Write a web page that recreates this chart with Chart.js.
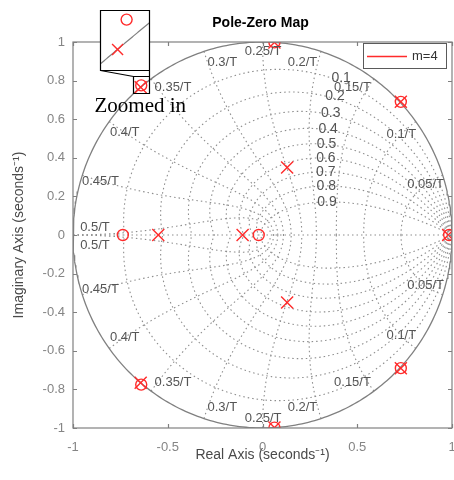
<!DOCTYPE html>
<html>
<head>
<meta charset="utf-8">
<script src="https://cdn.jsdelivr.net/npm/chart.js@4.4.1/dist/chart.umd.min.js"></script>
<style>
  html, body { margin: 0; padding: 0; background: #fff; }
</style>
</head>
<body>
<canvas id="pzmap" width="454" height="480"></canvas>
<script>
// axis ticks
const xTicks = [-1, -0.5, 0, 0.5, 1];
const yTicks = [-1, -0.8, -0.6, -0.4, -0.2, 0, 0.2, 0.4, 0.6, 0.8, 1];

// zgrid: damping ratios and natural frequencies (wn*T = k*pi/10)
const dampingRatios = [0.1, 0.2, 0.3, 0.4, 0.5, 0.6, 0.7, 0.8, 0.9];
const freqSteps = [1, 2, 3, 4, 5, 6, 7, 8, 9, 10];
const freqLabels = ["0.05/T", "0.1/T", "0.15/T", "0.2/T", "0.25/T", "0.3/T", "0.35/T", "0.4/T", "0.45/T", "0.5/T"];

// poles (x) and zeros (o)
const poleRe = [-0.55, -0.105, 0.13, 0.13, 0.98, 0.063, 0.063, 0.73, 0.73, -0.6428, -0.6428];
const poleIm = [0, 0, 0.35, -0.35, 0, 0.998, -0.998, 0.69, -0.69, 0.766, -0.766];
const zeroRe = [-0.737, -0.02, 0.985, 0.063, 0.063, 0.73, 0.73, -0.64, -0.64];
const zeroIm = [0, 0, 0, 0.998, -0.998, 0.69, -0.69, 0.7752, -0.7752];

const legendLabel = "m=4";

// which pole/zero pair the "zoomed in" box shows, and the data window of the inset
const zoomPole = 9, zoomZero = 7;
const insetView = { x0: -0.6481, x1: -0.6329, y0: 0.7595, y1: 0.7780 };

// label layout for the frequency curves (radius, nudge toward the imaginary axis in degrees)
const freqLabelRadius = [0.9, 0.9, 0.9, 0.92, 0.95, 0.92, 0.9, 0.9, 0.9, 0.9];
const freqLabelNudge = [0, 0, 4.5, 5, 0, -4.5, -4.2, 0, 0, 0];

const RED = "#ff2b2b";
const GRID = "#8e8e8e";
const AXIS = "#808080";
const FONT = "'Liberation Sans', Arial, sans-serif";

function pts(re, im) {
  return re.map((r, i) => ({ x: r, y: im[i] }));
}

// unit circle
const circle = [];
for (let i = 0; i <= 360; i++) {
  const a = i * Math.PI / 180;
  circle.push({ x: Math.cos(a), y: Math.sin(a) });
}

function gridSet(data) {
  return {
    data: data, showLine: true, pointRadius: 0, borderColor: GRID,
    borderWidth: 1.1, borderDash: [1.5, 3], fill: false
  };
}

const gridSets = [];
// real axis
gridSets.push(gridSet([{ x: -1, y: 0 }, { x: 1, y: 0 }]));
// constant damping curves
dampingRatios.forEach(z => {
  const up = [], lo = [];
  for (let i = 0; i <= 150; i++) {
    const th = Math.PI * i / 150;
    const r = Math.exp(-z * th / Math.sqrt(1 - z * z));
    up.push({ x: r * Math.cos(th), y: r * Math.sin(th) });
    lo.push({ x: r * Math.cos(th), y: -r * Math.sin(th) });
  }
  gridSets.push(gridSet(up), gridSet(lo));
});
// constant natural frequency curves
freqSteps.forEach(k => {
  const w = k * Math.PI / 10;
  const up = [], lo = [];
  for (let i = 0; i <= 80; i++) {
    const z = i / 80;
    const r = Math.exp(-z * w), th = w * Math.sqrt(1 - z * z);
    up.push({ x: r * Math.cos(th), y: r * Math.sin(th) });
    lo.push({ x: r * Math.cos(th), y: -r * Math.sin(th) });
  }
  gridSets.push(gridSet(up), gridSet(lo));
});

function drawMarks(ctx, px, py, kind) {
  ctx.save();
  ctx.strokeStyle = RED;
  ctx.lineWidth = 1.4;
  ctx.beginPath();
  if (kind === "x") {
    const d = 5.5;
    ctx.moveTo(px - d, py - d); ctx.lineTo(px + d, py + d);
    ctx.moveTo(px - d, py + d); ctx.lineTo(px + d, py - d);
  } else {
    ctx.arc(px, py, 5.5, 0, Math.PI * 2);
  }
  ctx.stroke();
  ctx.restore();
}

const overlay = {
  id: "overlay",
  afterDatasetsDraw(chart) {
    const { ctx, chartArea: a, scales: { x, y } } = chart;
    ctx.save();

    // axes box and inward ticks
    ctx.strokeStyle = AXIS;
    ctx.lineWidth = 1.2;
    ctx.strokeRect(a.left, a.top, a.right - a.left, a.bottom - a.top);
    ctx.beginPath();
    xTicks.forEach(v => {
      const p = Math.round(x.getPixelForValue(v)) + 0.5;
      ctx.moveTo(p, a.bottom); ctx.lineTo(p, a.bottom - 4);
      ctx.moveTo(p, a.top); ctx.lineTo(p, a.top + 4);
    });
    yTicks.forEach(v => {
      const p = Math.round(y.getPixelForValue(v)) + 0.5;
      ctx.moveTo(a.left, p); ctx.lineTo(a.left + 4, p);
      ctx.moveTo(a.right, p); ctx.lineTo(a.right - 4, p);
    });
    ctx.stroke();

    // damping labels, placed on each curve near wn*T = 1.15..1.2
    ctx.fillStyle = "#555";
    ctx.font = "14px " + FONT;
    ctx.textAlign = "left";
    ctx.textBaseline = "middle";
    dampingRatios.forEach(z => {
      const w = 1.15 + 0.05 * (z - 0.1) / 0.8;
      const r = Math.exp(-z * w), th = w * Math.sqrt(1 - z * z);
      ctx.fillText(String(z), x.getPixelForValue(r * Math.cos(th)) - 1, y.getPixelForValue(r * Math.sin(th)));
    });

    // natural frequency labels, near where each curve crosses |z| = 0.9
    ctx.font = "13px " + FONT;
    ctx.textAlign = "center";
    freqSteps.forEach((k, i) => {
      const w = k * Math.PI / 10;
      const z = -Math.log(0.9) / w;
      const th = w * Math.sqrt(1 - z * z) + freqLabelNudge[i] * Math.PI / 180;
      const rr = freqLabelRadius[i];
      const px = x.getPixelForValue(rr * Math.cos(th));
      if (k === 10) {
        const py = y.getPixelForValue(0);
        ctx.textBaseline = "bottom";
        ctx.fillText(freqLabels[i], px + 3, py - 1);
        ctx.textBaseline = "top";
        ctx.fillText(freqLabels[i], px + 3, py + 4);
        ctx.textBaseline = "middle";
      } else {
        ctx.fillText(freqLabels[i], px, y.getPixelForValue(rr * Math.sin(th)));
        ctx.fillText(freqLabels[i], px, y.getPixelForValue(-rr * Math.sin(th)));
      }
    });

    // title
    ctx.fillStyle = "#000";
    ctx.font = "bold 14px " + FONT;
    ctx.textBaseline = "middle";
    ctx.fillText("Pole-Zero Map", (a.left + a.right) / 2 - 2, 23);

    // legend
    const lw = 83, lh = 25, lx = a.right - 6 - lw, ly = a.top + 1;
    ctx.fillStyle = "#fff";
    ctx.fillRect(lx, ly, lw, lh);
    ctx.strokeStyle = "#5a5a5a";
    ctx.lineWidth = 1;
    ctx.strokeRect(lx + 0.5, ly + 0.5, lw, lh);
    ctx.strokeStyle = RED;
    ctx.lineWidth = 1.5;
    ctx.beginPath();
    const legY = Math.round(ly + lh / 2) + 0.5;
    ctx.moveTo(lx + 4, legY); ctx.lineTo(lx + 44, legY);
    ctx.stroke();
    ctx.fillStyle = "#333";
    ctx.font = "13px " + FONT;
    ctx.textAlign = "left";
    ctx.fillText(legendLabel, lx + 49, ly + lh / 2 + 1);

    // "zoomed in" inset
    const cx = x.getPixelForValue(poleRe[zoomPole]);
    const cy = y.getPixelForValue(poleIm[zoomPole]);
    const bl = Math.round(cx - 8) + 0.5, br = Math.round(cx + 8) + 0.5;
    const bt = Math.round(cy - 11) + 0.5, bb = Math.round(cy + 6) + 0.5;
    const iw = 49, ih = 60;
    const ir = br, il = ir - iw, ib = bt - 6, it = ib - ih;
    ctx.fillStyle = "#fff";
    ctx.beginPath();
    ctx.moveTo(il, it); ctx.lineTo(ir, it); ctx.lineTo(ir, bt); ctx.lineTo(bl, bt); ctx.lineTo(il, ib);
    ctx.closePath();
    ctx.fill();

    const ix = v => il + (v - insetView.x0) / (insetView.x1 - insetView.x0) * iw;
    const iy = v => it + (insetView.y1 - v) / (insetView.y1 - insetView.y0) * ih;
    ctx.save();
    ctx.beginPath();
    ctx.rect(il, it, iw, ih);
    ctx.clip();
    ctx.strokeStyle = AXIS;
    ctx.lineWidth = 1.2;
    ctx.beginPath();
    for (let i = 0; i <= 40; i++) {
      const vx = insetView.x0 + (insetView.x1 - insetView.x0) * i / 40;
      const vy = Math.sqrt(1 - vx * vx);
      if (i === 0) ctx.moveTo(ix(vx), iy(vy)); else ctx.lineTo(ix(vx), iy(vy));
    }
    ctx.stroke();
    drawMarks(ctx, ix(poleRe[zoomPole]), iy(poleIm[zoomPole]), "x");
    drawMarks(ctx, ix(zeroRe[zoomZero]), iy(zeroIm[zoomZero]), "o");
    ctx.restore();

    ctx.strokeStyle = "#000";
    ctx.lineWidth = 1.2;
    ctx.beginPath();
    ctx.rect(il, it, iw, ih);
    ctx.moveTo(ir, ib); ctx.lineTo(ir, bb);
    ctx.lineTo(bl, bb); ctx.lineTo(bl, bt); ctx.lineTo(ir, bt);
    ctx.moveTo(il, ib); ctx.lineTo(bl, bt);
    ctx.stroke();

    ctx.fillStyle = "#000";
    ctx.font = "21px 'Liberation Serif', 'Times New Roman', serif";
    ctx.textAlign = "left";
    ctx.textBaseline = "alphabetic";
    ctx.fillText("Zoomed in", il - 6, bb + 18);

    ctx.restore();
  }
};

new Chart(document.getElementById("pzmap"), {
  type: "scatter",
  data: {
    datasets: [
      {
        data: pts(poleRe, poleIm), pointStyle: "crossRot", pointRadius: 8.5,
        borderColor: RED, backgroundColor: RED, pointBorderWidth: 1.4
      },
      {
        data: pts(zeroRe, zeroIm), pointStyle: "circle", pointRadius: 5.5,
        borderColor: RED, backgroundColor: "rgba(0,0,0,0)", pointBorderWidth: 1.4
      },
      {
        data: circle, showLine: true, pointRadius: 0, borderColor: AXIS, borderWidth: 1.3, fill: false
      },
      ...gridSets
    ]
  },
  options: {
    responsive: false,
    animation: false,
    events: [],
    layout: { autoPadding: false, padding: { top: 42, right: 2, left: 0, bottom: 0 } },
    plugins: { legend: { display: false }, tooltip: { enabled: false }, title: { display: false } },
    scales: {
      x: {
        type: "linear", min: -1, max: 1,
        afterBuildTicks: s => { s.ticks = xTicks.map(v => ({ value: v })); },
        afterFit: s => { s.height = 52; s.paddingLeft = 0; s.paddingRight = 0; },
        grid: { display: false, drawTicks: false },
        border: { display: false },
        ticks: {
          padding: 12, color: "#858585",
          font: { family: FONT, size: 13 },
          callback: v => String(v)
        },
        title: {
          display: true, text: "Real Axis (seconds\u207B\u00B9)", color: "#4a4a4a",
          font: { family: FONT, size: 14 },
          padding: { top: 0, bottom: 16 }
        }
      },
      y: {
        type: "linear", min: -1, max: 1,
        afterBuildTicks: s => { s.ticks = yTicks.map(v => ({ value: v })); },
        afterFit: s => { s.width = 73; s.paddingTop = 0; s.paddingBottom = 0; },
        grid: { display: false, drawTicks: false },
        border: { display: false },
        ticks: {
          padding: 8, color: "#858585",
          font: { family: FONT, size: 13 },
          callback: v => String(v)
        },
        title: {
          display: true, text: "Imaginary Axis (seconds\u207B\u00B9)", color: "#4a4a4a",
          font: { family: FONT, size: 14 },
          padding: { top: 11, bottom: 0 }
        }
      }
    }
  },
  plugins: [overlay]
});
</script>
</body>
</html>
